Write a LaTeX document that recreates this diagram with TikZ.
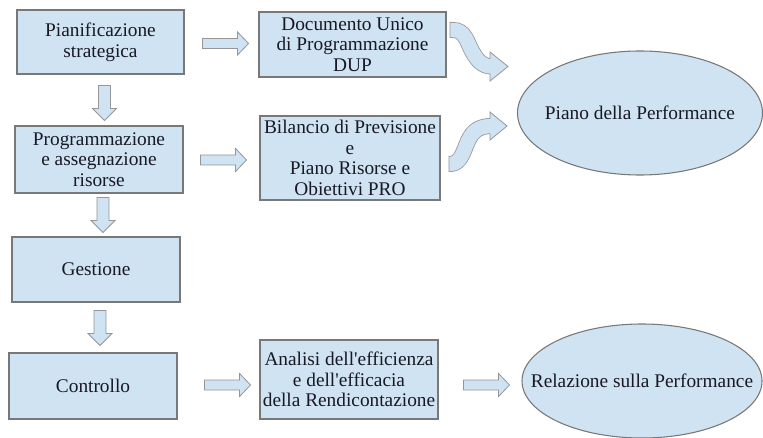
\documentclass[tikz,border=0pt]{standalone}
\usepackage{fontspec}
\setmainfont{Liberation Serif}
\newfontfamily\diafont{Liberation Serif}
\usetikzlibrary{shapes.geometric,calc}
\definecolor{boxfill}{RGB}{207,227,243}
\definecolor{boxline}{RGB}{120,120,120}
\definecolor{arrline}{RGB}{150,150,150}
\definecolor{txt}{RGB}{25,25,35}
\begin{document}
\begin{tikzpicture}[x=0.75pt,y=-0.75pt,
  wh/.style 2 args={minimum width=#1*0.75pt, minimum height=#2*0.75pt},
  box/.style={rectangle, draw=boxline, fill=boxfill, line width=0.8pt, inner sep=0pt,
    align=center, text=txt, font=\diafont\fontsize{14.5}{15.5}\selectfont},
  ell/.style={ellipse, draw=boxline, fill=boxfill, line width=0.8pt, inner sep=0pt,
    text=txt, font=\diafont\fontsize{14.5}{15.5}\selectfont},
  blockarrow/.style={draw=arrline, fill=boxfill, line width=0.6pt, line join=miter},
  rarr/.pic={\draw[blockarrow] (0,-5) -- (35,-5) -- (35,-11.5) -- (46,0) -- (35,11.5) -- (35,5) -- (0,5) -- cycle;},
  darr/.pic={\draw[blockarrow] (-6,0) -- (6,0) -- (6,23) -- (12,23) -- (0,35) -- (-12,23) -- (-6,23) -- cycle;},
  bandout/.style={draw=arrline, line width=12pt},
  bandin/.style={draw=boxfill, line width=10.8pt, shorten <=0.6pt}
]
\fill[white] (0,0) rectangle (763,438);
\useasboundingbox (0,0) rectangle (763,438);

% left column
\node[box, wh={167}{64}] (ps) at (100.5,42) {Pianificazione\\strategica};
\node[box, wh={168}{67}] (pr) at (99,159.5) {Programmazione\\e assegnazione\\risorse};
\node[box, wh={168}{65}] (ge) at (96,269.5) {Gestione};
\node[box, wh={168}{66}] (co) at (93,386) {Controllo};

% middle column
\node[box, wh={187}{65}] (dup) at (352.5,44.5) {Documento Unico\\di Programmazione\\DUP};
\node[box, wh={180}{84}] (bil) at (350,158) {Bilancio di Previsione\\e\\Piano Risorse e\\Obiettivi PRO};
\node[box, wh={178}{79}] (an) at (349,379.5) {Analisi dell'efficienza\\e dell'efficacia\\della Rendicontazione};

% ellipses
\node[ell, wh={245}{124}] (pp) at (640,113) {\makebox[0pt]{Piano della Performance}};
\node[ell, wh={240}{114}] (rp) at (642,381) {\makebox[0pt]{Relazione sulla Performance}};

% straight block arrows
\pic at ($(ps.east)+(18,1.5)$) {rarr};
\pic at ($(pr.east)+(17,0.5)$) {rarr};
\pic at ($(co.east)+(27,-1)$) {rarr};
\pic at ($(an.east)+(25,5.5)$) {rarr};
\pic at ($(ps.south)+(4,11)$) {darr};
\pic at ($(pr.south)+(4,4)$) {darr};
\pic at ($(ge.south)+(4,8)$) {darr};

% curved arrow from DUP
\coordinate (c1s) at ($(dup.east)+(3,-14.5)$);
\coordinate (c1e) at (492,66.5);
\draw[bandout] (c1s) -- (453,30) .. controls (465,30) and (467,42) .. (472,51) .. controls (477,60) and (482,66.5) .. (c1e);
\draw[blockarrow] (490,52) -- (508,66.5) -- (490,81) -- cycle;
\draw[bandin] (c1s) -- (453,30) .. controls (465,30) and (467,42) .. (472,51) .. controls (477,60) and (482,66.5) .. (c1e);

% curved arrow from Bilancio
\coordinate (c2s) at ($(bil.east)+(8,6)$);
\coordinate (c2e) at (492,126);
\draw[bandout] (c2s) -- (451,164) .. controls (461,163) and (463,152) .. (468,141) .. controls (473,130) and (480,126) .. (c2e);
\draw[blockarrow] (490,112) -- (507,126) -- (490,140) -- cycle;
\draw[bandin] (c2s) -- (451,164) .. controls (461,163) and (463,152) .. (468,141) .. controls (473,130) and (480,126) .. (c2e);
\end{tikzpicture}
\end{document}
